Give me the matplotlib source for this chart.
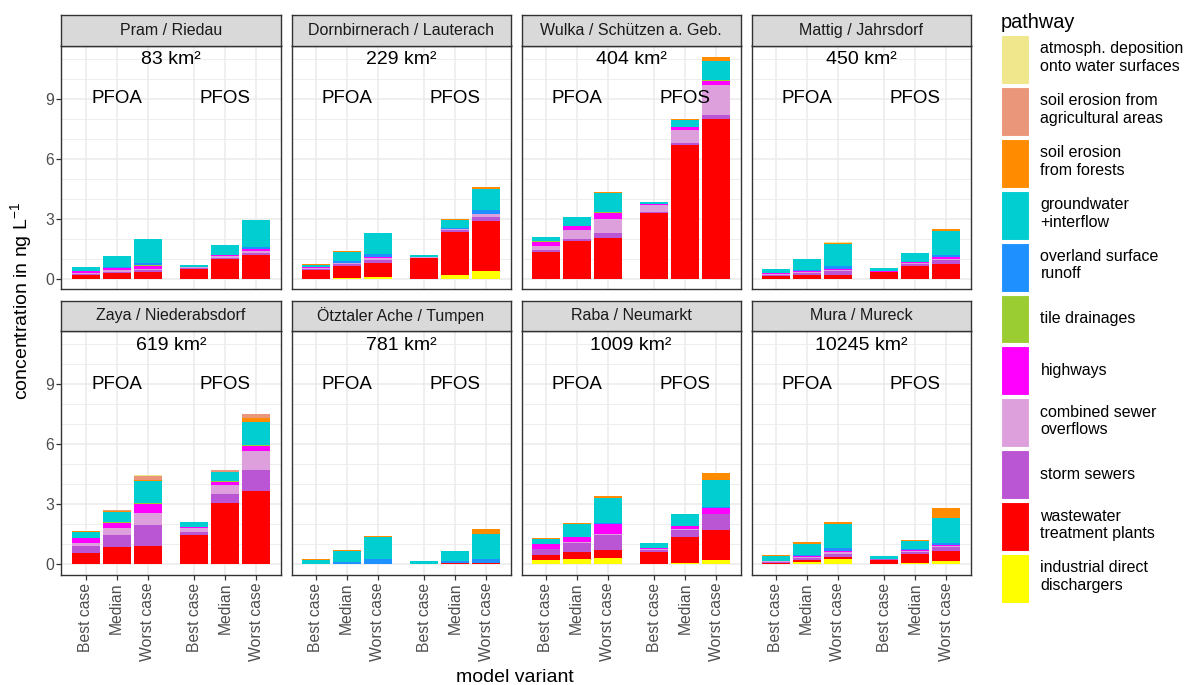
import numpy as np
import matplotlib
matplotlib.use("Agg")
from matplotlib import pyplot as plt
from matplotlib.patches import Patch

plt.rcParams["font.family"] = ["Liberation Sans", "DejaVu Sans"]
plt.rcParams["mathtext.fontset"] = "custom"
plt.rcParams["mathtext.rm"] = "Liberation Sans"
plt.rcParams["mathtext.it"] = "Liberation Sans:italic"

sites = ["Pram / Riedau", "Dornbirnerach / Lauterach", "Wulka / Schützen a. Geb.", "Mattig / Jahrsdorf",
         "Zaya / Niederabsdorf", "Ötztaler Ache / Tumpen", "Raba / Neumarkt", "Mura / Mureck"]
areas = ["83 km²", "229 km²", "404 km²", "450 km²", "619 km²", "781 km²", "1009 km²", "10245 km²"]
variants = ["Best case", "Median", "Worst case", "Best case", "Median", "Worst case"]
substances = ["PFOA", "PFOS"]

# one row per site, columns: PFOA best/median/worst, PFOS best/median/worst  (ng/L)
industrial = [[0, 0, 0, 0, 0, 0],
              [0, 0.05, 0.1, 0, 0.17, 0.38],
              [0, 0, 0, 0, 0, 0],
              [0, 0, 0, 0, 0, 0],
              [0, 0, 0, 0, 0, 0],
              [0, 0, 0, 0, 0, 0],
              [0.22, 0.25, 0.33, 0, 0.08, 0.2],
              [0, 0.1, 0.25, 0, 0.07, 0.15]]
wwtp = [[0.2, 0.28, 0.32, 0.48, 0.98, 1.18],
        [0.45, 0.57, 0.68, 1.03, 2.15, 2.52],
        [1.32, 1.87, 2.03, 3.28, 6.67, 7.98],
        [0.13, 0.18, 0.18, 0.33, 0.65, 0.72],
        [0.58, 0.85, 0.92, 1.47, 3.07, 3.68],
        [0.01, 0.01, 0.01, 0.03, 0.07, 0.08],
        [0.25, 0.35, 0.37, 0.62, 1.29, 1.52],
        [0.08, 0.13, 0.12, 0.23, 0.45, 0.5]]
storm = [[0.04, 0.08, 0.1, 0.05, 0.07, 0.1],
         [0.06, 0.1, 0.17, 0.03, 0.1, 0.18],
         [0.13, 0.13, 0.25, 0.05, 0.12, 0.22],
         [0.07, 0.1, 0.22, 0, 0.08, 0.2],
         [0.33, 0.6, 1.07, 0.15, 0.47, 1.03],
         [0, 0, 0, 0, 0, 0],
         [0.28, 0.45, 0.78, 0.08, 0.36, 0.78],
         [0.05, 0.1, 0.15, 0.02, 0.1, 0.2]]
cso = [[0.04, 0.06, 0.08, 0.05, 0.1, 0.1],
       [0.05, 0.06, 0.1, 0.03, 0.06, 0.14],
       [0.2, 0.42, 0.69, 0.37, 0.66, 1.5],
       [0.05, 0.06, 0.05, 0.03, 0.05, 0.08],
       [0.18, 0.35, 0.57, 0.18, 0.42, 0.93],
       [0, 0, 0, 0, 0, 0],
       [0.02, 0.05, 0.03, 0.05, 0.03, 0.03],
       [0.05, 0.05, 0.08, 0.02, 0.05, 0.05]]
highways = [[0.09, 0.1, 0.16, 0.02, 0.05, 0.1],
            [0.01, 0.02, 0.05, 0, 0.02, 0.04],
            [0.2, 0.2, 0.31, 0.05, 0.12, 0.17],
            [0.03, 0.05, 0.06, 0.03, 0.04, 0.08],
            [0.23, 0.25, 0.45, 0.08, 0.15, 0.25],
            [0, 0, 0, 0, 0, 0],
            [0.25, 0.27, 0.5, 0.08, 0.17, 0.27],
            [0, 0.04, 0.05, 0, 0.03, 0.05]]
tile = [[0, 0, 0.01, 0, 0, 0.02],
        [0, 0, 0, 0, 0, 0],
        [0.02, 0.03, 0.05, 0, 0.03, 0.08],
        [0, 0, 0, 0, 0, 0],
        [0.02, 0.05, 0.08, 0, 0.05, 0.08],
        [0, 0, 0, 0, 0, 0],
        [0, 0.02, 0, 0, 0, 0],
        [0, 0, 0, 0, 0, 0]]
overland = [[0, 0.05, 0.13, 0, 0.01, 0.08],
            [0, 0.07, 0.15, 0, 0.03, 0.16],
            [0, 0, 0.03, 0, 0, 0],
            [0.02, 0.06, 0.12, 0, 0.04, 0.12],
            [0, 0, 0, 0, 0, 0],
            [0.02, 0.1, 0.27, 0, 0.08, 0.2],
            [0, 0, 0.07, 0, 0, 0.07],
            [0, 0.07, 0.17, 0, 0.07, 0.12]]
groundwater = [[0.21, 0.55, 1.18, 0.1, 0.49, 1.34],
               [0.14, 0.47, 1.03, 0.11, 0.42, 1.06],
               [0.2, 0.43, 0.92, 0.08, 0.35, 0.95],
               [0.18, 0.53, 1.13, 0.13, 0.42, 1.2],
               [0.28, 0.5, 1.1, 0.22, 0.45, 1.15],
               [0.2, 0.56, 1.1, 0.14, 0.5, 1.25],
               [0.25, 0.64, 1.25, 0.22, 0.57, 1.35],
               [0.24, 0.54, 1.2, 0.15, 0.4, 1.25]]
forest = [[0, 0.01, 0.02, 0, 0, 0.03],
          [0.02, 0.02, 0.02, 0, 0.01, 0.12],
          [0.03, 0.02, 0.05, 0.01, 0.03, 0.16],
          [0, 0, 0.03, 0, 0, 0.08],
          [0.03, 0.05, 0.02, 0, 0.03, 0.2],
          [0.03, 0.03, 0.03, 0, 0, 0.22],
          [0.03, 0.05, 0.1, 0, 0.03, 0.35],
          [0.05, 0.07, 0.08, 0, 0.05, 0.48]]
agri = [[0, 0, 0, 0, 0, 0],
        [0, 0, 0, 0, 0, 0],
        [0, 0, 0, 0, 0, 0],
        [0, 0, 0, 0, 0, 0],
        [0, 0.07, 0.22, 0, 0.06, 0.18],
        [0, 0, 0, 0, 0, 0],
        [0, 0, 0, 0, 0, 0],
        [0, 0, 0, 0, 0, 0]]
atmos = [[0, 0, 0, 0, 0, 0],
         [0, 0, 0, 0, 0, 0],
         [0, 0, 0, 0, 0, 0],
         [0, 0.02, 0.02, 0, 0.02, 0.02],
         [0, 0, 0.03, 0.02, 0, 0.03],
         [0, 0, 0, 0, 0, 0],
         [0, 0, 0, 0, 0, 0],
         [0, 0, 0, 0, 0, 0]]

# stacking order bottom -> top
pathways = [
    ("industrial direct\ndischargers", industrial, "#FFFF00"),
    ("wastewater\ntreatment plants", wwtp, "#FF0000"),
    ("storm sewers", storm, "#BA55D3"),
    ("combined sewer\noverflows", cso, "#DDA0DD"),
    ("highways", highways, "#FF00FF"),
    ("tile drainages", tile, "#9ACD32"),
    ("overland surface\nrunoff", overland, "#1E90FF"),
    ("groundwater\n+interflow", groundwater, "#00CED1"),
    ("soil erosion\nfrom forests", forest, "#FF8C00"),
    ("soil erosion from\nagricultural areas", agri, "#E9967A"),
    ("atmosph. deposition\nonto water surfaces", atmos, "#F0E68C"),
]

xpos = np.array([1, 2, 3, 4.5, 5.5, 6.5])
W, H = 1184, 685
fig = plt.figure(figsize=(W / 100, H / 100), dpi=100)


def rect(x0, y0, x1, y1):
    return [x0 / W, 1 - y1 / H, (x1 - x0) / W, (y1 - y0) / H]


col_x = [61.5, 291.5, 521.5, 751.5]
pan_w = 219
rows = [(15, 45.5, 289.3), (300.7, 331, 575)]  # strip top, panel top, panel bottom
dark = "#333333"

for i, site in enumerate(sites):
    r, c = divmod(i, 4)
    st, pt, pb = rows[r]
    x0 = col_x[c]
    ax = fig.add_axes(rect(x0, pt, x0 + pan_w, pb))
    ax.set_facecolor("white")
    bottom = np.zeros(6)
    for name, data, col in pathways:
        vals = np.array(data[i], dtype=float)
        ax.bar(xpos, vals, bottom=bottom, width=0.9, color=col, linewidth=0, zorder=3)
        bottom += vals
    ax.set_xlim(0.218, 7.282)
    ax.set_ylim(-0.53, 11.66)
    ax.set_yticks([0, 3, 6, 9])
    ax.set_yticks([1, 2, 4, 5, 7, 8, 10, 11], minor=True)
    ax.set_xticks(xpos)
    ax.grid(True, which="major", color="#EBEBEB", lw=1.1, zorder=0)
    ax.grid(True, which="minor", axis="y", color="#EBEBEB", lw=0.6, zorder=0)
    ax.set_axisbelow(True)
    for s in ax.spines.values():
        s.set_color(dark)
        s.set_linewidth(1.0)
    ax.tick_params(axis="both", which="major", length=3.5, width=0.9, color=dark,
                   labelsize=11.3, labelcolor="#4D4D4D", pad=2)
    ax.tick_params(axis="y", which="minor", length=0)
    if r == 1:
        ax.set_xticklabels(variants, rotation=90)
    else:
        ax.tick_params(axis="x", length=0, labelbottom=False)
    if c != 0:
        ax.tick_params(axis="y", length=0, labelleft=False)
    ax.text(3.75, 10.95, areas[i], ha="center", va="center", fontsize=14, color="black", zorder=4)
    ax.text(2, 9, substances[0], ha="center", va="center", fontsize=13.5, color="black", zorder=4)
    ax.text(5.5, 9, substances[1], ha="center", va="center", fontsize=13.5, color="black", zorder=4)

    sax = fig.add_axes(rect(x0, st, x0 + pan_w, pt))
    sax.set_facecolor("#D9D9D9")
    sax.set_xticks([])
    sax.set_yticks([])
    for s in sax.spines.values():
        s.set_color(dark)
        s.set_linewidth(1.0)
    sax.text(0.5, 0.5, site, ha="center", va="center", fontsize=11.5, color="#1A1A1A",
             transform=sax.transAxes)

fig.text(515 / W, 1 - 677 / H, "model variant", ha="center", va="center", fontsize=14)
fig.text(21 / W, 1 - 301 / H, "concentration in ng L$^{-1}$", ha="center", va="center",
         rotation=90, fontsize=14)

handles = [Patch(facecolor=col, edgecolor="white", linewidth=0.8, label=name)
           for name, data, col in pathways[::-1]]
leg = fig.legend(handles=handles, loc="upper left", bbox_to_anchor=(1001 / W, 1 - 13 / H),
                 frameon=False, title="pathway", title_fontsize=14.3, fontsize=11.5,
                 handlelength=1.75, handleheight=4.33, labelspacing=0.19,
                 handletextpad=0.72, borderpad=0, borderaxespad=0)
leg._legend_box.align = "left"

fig.savefig("out.png", dpi=100)
